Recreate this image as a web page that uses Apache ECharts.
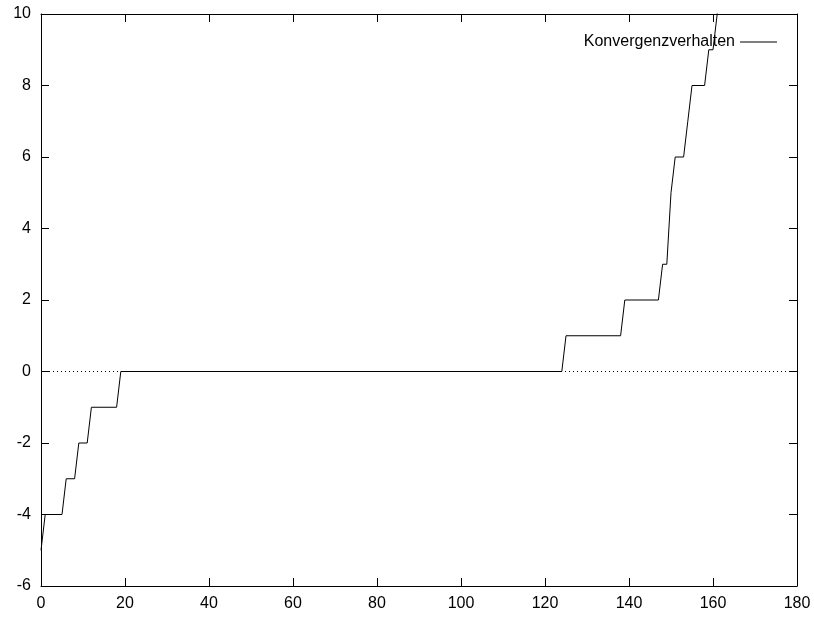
<!DOCTYPE html>
<html>
<head>
<meta charset="utf-8">
<script src="https://cdn.jsdelivr.net/npm/echarts@6/dist/echarts.min.js"></script>
<style>
  html, body { margin: 0; padding: 0; background: #fff; }
  #chart { width: 814px; height: 619px; }
</style>
</head>
<body>
<div id="chart"></div>
<script>
// Konvergenzverhalten: Iteration (x) gegen Wert (y)
var iterations = [0, 1, 5, 6, 8, 9, 11, 12, 18, 19, 124, 125, 138, 139, 147, 148, 149, 150, 151, 153, 154, 155, 158, 159, 160, 161, 162];
var values     = [-5, -4, -4, -3, -3, -2, -2, -1, -1, 0, 0, 1, 1, 2, 2, 3, 3, 5, 6, 6, 7, 8, 8, 9, 9, 10, 11];
var seriesName = 'Konvergenzverhalten';

var points = iterations.map(function (x, i) { return [x, values[i]]; });

var myChart = echarts.init(document.getElementById('chart'));

var font = 'Liberation Sans, Arial, sans-serif';
var tickStyle = { show: true, inside: true, length: 8, lineStyle: { color: '#000', width: 1 } };
var lineStyle = { show: true, onZero: false, lineStyle: { color: '#000', width: 1 } };

var option = {
  animation: false,
  backgroundColor: '#fff',
  grid: { left: 41, right: 17, top: 14, bottom: 33, containLabel: false },
  legend: {
    data: [{ name: seriesName, icon: 'rect' }],
    right: 32,
    top: 29,
    align: 'right',
    itemWidth: 37,
    itemHeight: 1,
    itemGap: 5,
    itemStyle: { color: '#000' },
    textStyle: { fontFamily: font, fontSize: 16, color: '#000' }
  },
  xAxis: [{
    type: 'value', min: 0, max: 180, interval: 20, position: 'bottom',
    axisLine: lineStyle, axisTick: tickStyle, splitLine: { show: false },
    axisLabel: { fontFamily: font, fontSize: 16, color: '#000', margin: 10 }
  }, {
    type: 'value', min: 0, max: 180, interval: 20, position: 'top',
    axisLine: lineStyle, axisTick: tickStyle, splitLine: { show: false },
    axisLabel: { show: false }
  }],
  yAxis: [{
    type: 'value', min: -6, max: 10, interval: 2, position: 'left',
    axisLine: lineStyle, axisTick: tickStyle, splitLine: { show: false },
    axisLabel: { fontFamily: font, fontSize: 16, color: '#000', margin: 10 }
  }, {
    type: 'value', min: -6, max: 10, interval: 2, position: 'right',
    axisLine: lineStyle, axisTick: tickStyle, splitLine: { show: false },
    axisLabel: { show: false }
  }],
  series: [{
    name: seriesName,
    type: 'line',
    data: points,
    symbol: 'none',
    showSymbol: false,
    clip: true,
    color: '#000',
    lineStyle: { color: '#000', width: 1 },
    markLine: {
      silent: true,
      symbol: 'none',
      label: { show: false },
      lineStyle: { color: '#000', width: 1, type: [1, 3] },
      data: [{ yAxis: 0 }]
    }
  }]
};

myChart.setOption(option);
</script>
</body>
</html>
